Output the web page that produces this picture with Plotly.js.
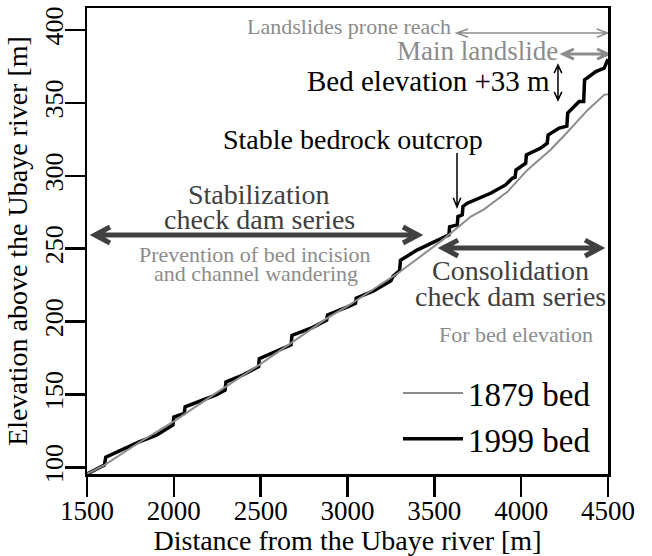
<!DOCTYPE html>
<html><head><meta charset="utf-8">
<script src="https://cdn.plot.ly/plotly-3.0.1.min.js"></script>
<style>html,body{margin:0;padding:0;background:#fff}#chart{width:652px;height:556px}</style>
</head><body><div id="chart"></div>
<script>
// ---- data ----
const distance1879 = [1500, 1600, 1800, 2000, 2238, 2500, 2892, 3000, 3300, 3537, 3650, 3710, 3786, 3921, 4036, 4171, 4267, 4382, 4478, 4500];
const elevation1879 = [95.5, 101.5, 117, 131.5, 150.5, 171, 203, 210.5, 234, 255, 266, 272, 277, 289, 304, 318, 330, 345, 355.5, 356];

const distance1999 = [1500, 1600, 1608, 1700, 1800, 1900, 1995, 2000, 2060, 2065, 2150, 2240, 2295, 2300, 2400, 2488, 2492, 2600, 2675, 2680, 2800, 2880, 2885, 3000, 3046, 3050, 3150, 3250, 3262, 3300, 3305, 3400, 3537, 3584, 3588, 3632, 3636, 3661, 3665, 3690, 3824, 3910, 3949, 3965, 3970, 4026, 4030, 4113, 4150, 4155, 4219, 4263, 4268, 4334, 4360, 4365, 4430, 4478, 4500];
const elevation1999 = [95.5, 101.5, 107, 112, 117.5, 122, 129, 134.5, 137, 141.5, 145.5, 149.5, 153, 158.5, 163.5, 169, 174.5, 180, 184, 190.5, 196, 201, 204.5, 210, 212.5, 216, 221, 228, 231, 235, 242, 249, 257, 259.4, 265, 266.3, 272, 273.2, 279, 281.2, 288, 293.7, 298.3, 299, 304, 308.6, 314.3, 319, 322.3, 328, 332.7, 334, 343, 350.9, 351, 365.8, 371.5, 373.8, 380];

const seriesNames = ['1879 bed', '1999 bed'];
const xTicks = [1500, 2000, 2500, 3000, 3500, 4000, 4500];
const yTicks = [100, 150, 200, 250, 300, 350, 400];

// ---- layout geometry ----
const W = 652, H = 556;
const M = {l: 87, r: 44, t: 8, b: 82};
const X_RANGE = [1500, 4500], Y_RANGE = [95.4, 415.1];
const PW = W - M.l - M.r, PH = H - M.t - M.b;
const sx = PW / (X_RANGE[1] - X_RANGE[0]);
const sy = PH / (Y_RANGE[1] - Y_RANGE[0]);

const FONT = 'Liberation Serif, Times New Roman, serif';
const GRAY = '#8c8c8c', DARK = '#404040';

// open chevron arrow drawn as a shape path in data coordinates (head size in px)
function arrowPath(x0, y0, x1, y1, head, angleDeg, both) {
  const dxp = (x1 - x0) * sx, dyp = -(y1 - y0) * sy;
  const L = Math.hypot(dxp, dyp), ux = dxp / L, uy = dyp / L;
  const a = angleDeg * Math.PI / 180;
  function headAt(xe, ye, dx, dy) {
    const pts = [];
    for (const s of [1, -1]) {
      const c = Math.cos(a), sn = Math.sin(a) * s;
      const vx = -dx, vy = -dy;
      const rx = vx * c - vy * sn, ry = vx * sn + vy * c;
      pts.push([xe + rx * head / sx, ye - ry * head / sy]);
    }
    return `M${pts[0][0]},${pts[0][1]} L${xe},${ye} L${pts[1][0]},${pts[1][1]}`;
  }
  let p = `M${x0},${y0} L${x1},${y1} ` + headAt(x1, y1, ux, uy);
  if (both) p += ' ' + headAt(x0, y0, -ux, -uy);
  return p;
}
function arrowShape(x0, y0, x1, y1, color, width, head, ang, both) {
  return {type: 'path', xref: 'x', yref: 'y', path: arrowPath(x0, y0, x1, y1, head, ang, both),
          line: {color: color, width: width}};
}
function label(text, x, y, size, color, xanchor) {
  return {text: text, x: x, y: y, xref: 'x', yref: 'y', showarrow: false,
          xanchor: xanchor || 'center', yanchor: 'middle',
          font: {family: FONT, size: size, color: color}};
}

const traces = [
  {x: distance1999, y: elevation1999, name: seriesNames[1], type: 'scatter', mode: 'lines',
   line: {color: '#000', width: 3.5}, legendrank: 2},
  {x: distance1879, y: elevation1879, name: seriesNames[0], type: 'scatter', mode: 'lines',
   line: {color: GRAY, width: 2}, legendrank: 1}
];

const shapes = [
  arrowShape(3629, 397.9, 4500, 397.9, GRAY, 1.5, 12, 20, true),
  arrowShape(4241, 383.5, 4500, 383.5, GRAY, 3, 12, 25, true),
  arrowShape(4212, 352.0, 4212, 376.0, '#000', 1.5, 9, 25, true),
  arrowShape(3630.5, 315.6, 3630.5, 278.6, '#000', 1.5, 10, 22, false),
  arrowShape(1546, 259.4, 3406, 259.4, DARK, 5, 17, 28, true),
  arrowShape(3550, 250.4, 4454, 250.4, DARK, 5, 17, 28, true)
];

const annotations = [
  label('Landslides prone reach', 3607, 402.4, 22, GRAY, 'right'),
  label('Main landslide', 4223.5, 385.6, 27, GRAY, 'right'),
  label('Bed elevation +33 m', 4177.5, 364.7, 29, '#000', 'right'),
  label('Stable bedrock outcrop', 3031.7, 325.2, 28, '#000'),
  label('Stabilization', 2493, 287.2, 28, DARK),
  label('check dam series', 2493, 270.0, 28, DARK),
  label('Prevention of bed incision', 2467, 246.0, 22, GRAY),
  label('and channel wandering', 2475, 232.9, 22, GRAY),
  label('Consolidation', 3941, 234.7, 28, DARK),
  label('check dam series', 3941, 217.5, 28, DARK),
  label('For bed elevation', 3973, 191.1, 22, GRAY)
];

const layout = {
  width: W, height: H, margin: M,
  paper_bgcolor: '#fff', plot_bgcolor: '#fff',
  showlegend: true,
  legend: {x: (398 - M.l) / PW, y: (M.t + PH - 365) / PH, xanchor: 'left', yanchor: 'top',
           bgcolor: 'rgba(0,0,0,0)', borderwidth: 0, font: {family: FONT, size: 33, color: '#000'},
           itemwidth: 60},
  xaxis: {
    showgrid: false, zeroline: false, showline: true, linewidth: 2.5, linecolor: '#000', mirror: true,
    ticks: 'outside', ticklen: 20, tickwidth: 2.5, tickcolor: '#000',
    tickfont: {family: FONT, size: 27, color: '#000'}, ticklabelstandoff: -9,
    range: X_RANGE, tickvals: xTicks,
    title: {text: 'Distance from the Ubaye river [m]', font: {family: FONT, size: 28, color: '#000'}, standoff: 4}
  },
  yaxis: {
    showgrid: false, zeroline: false, showline: true, linewidth: 2.5, linecolor: '#000', mirror: true,
    ticks: 'outside', ticklen: 20, tickwidth: 2.5, tickcolor: '#000',
    tickfont: {family: FONT, size: 26, color: '#000'}, tickangle: -90, ticklabelstandoff: -9,
    range: Y_RANGE, tickvals: yTicks,
    title: {text: 'Elevation above the Ubaye river [m]', font: {family: FONT, size: 28, color: '#000'}, standoff: 5}
  },
  shapes: shapes,
  annotations: annotations
};

Plotly.newPlot('chart', traces, layout, {staticPlot: true, displayModeBar: false});
</script>
</body></html>
